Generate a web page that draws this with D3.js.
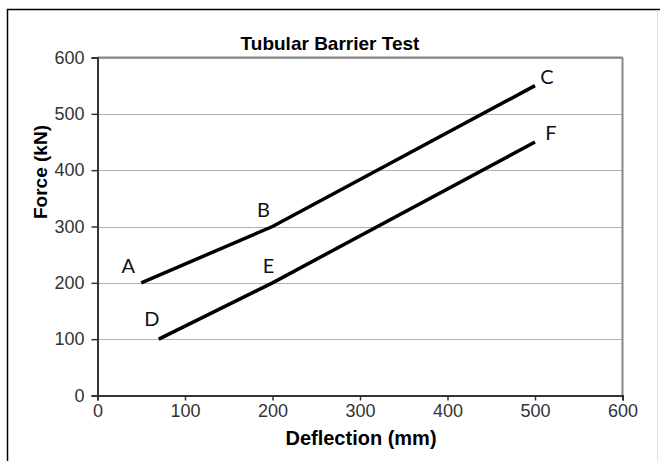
<!DOCTYPE html>
<html>
<head>
<meta charset="utf-8">
<script src="https://cdn.jsdelivr.net/npm/d3@7"></script>
<style>
  body { margin: 0; background: #fff; }
</style>
</head>
<body>
<script>
// values
var upperX = [50, 200, 500];
var upperY = [200, 300, 550];
var upperLabels = ["A", "B", "C"];
var lowerX = [70, 200, 500];
var lowerY = [100, 200, 450];
var lowerLabels = ["D", "E", "F"];
var xTicks = [0, 100, 200, 300, 400, 500, 600];
var yTicks = [0, 100, 200, 300, 400, 500, 600];

var W = 660, H = 461;
var plotLeft = 97.5, plotRight = 622.5, plotTop = 57.5, plotBottom = 395.5;

var svg = d3.select("body").append("svg").attr("width", W).attr("height", H);

// outer frame, only top and left edges show inside the picture
svg.append("rect").attr("x", 7.5).attr("y", 9.5).attr("width", 800).attr("height", 600)
    .attr("fill", "none").attr("stroke", "#000").attr("stroke-width", 1.5);
svg.append("line").attr("x1", 657.5).attr("x2", 657.5).attr("y1", 10).attr("y2", 461)
    .attr("stroke", "#ddd");

var x = d3.scaleLinear().domain([0, 600]).range([plotLeft, plotRight]);
var y = d3.scaleLinear().domain([0, 600]).range([plotBottom, plotTop]);

// grid lines
svg.append("g").selectAll("line").data(yTicks.slice(1)).enter().append("line")
    .attr("x1", plotLeft).attr("x2", plotRight)
    .attr("y1", function (d) { return Math.round(y(d)) + 0.5; })
    .attr("y2", function (d) { return Math.round(y(d)) + 0.5; })
    .attr("stroke", "#b0b0b0").attr("stroke-width", 1);

// top and right border of plot area
svg.append("line").attr("x1", plotRight).attr("x2", plotRight).attr("y1", plotTop).attr("y2", plotBottom)
    .attr("stroke", "#888").attr("stroke-width", 2);
svg.append("line").attr("x1", plotLeft).attr("x2", plotRight).attr("y1", plotTop).attr("y2", plotTop)
    .attr("stroke", "#888").attr("stroke-width", 2);

var xAxis = svg.append("g").attr("transform", "translate(0," + plotBottom + ")")
    .call(d3.axisBottom(x).tickValues(xTicks).tickSize(5).tickFormat(d3.format("d")));
var yAxis = svg.append("g").attr("transform", "translate(" + plotLeft + ",0)")
    .call(d3.axisLeft(y).tickValues(yTicks).tickSize(6).tickFormat(d3.format("d")));

[xAxis, yAxis].forEach(function (a) {
    a.select(".domain").attr("stroke", "#333").attr("stroke-width", 2);
    a.selectAll(".tick line").attr("stroke", "#333").attr("stroke-width", 1.5);
    a.selectAll(".tick text").attr("fill", "#333")
        .style("font-family", "'Liberation Sans', Arial, sans-serif").style("font-size", "18px");
});
xAxis.selectAll(".tick text").attr("dy", "0.71em").attr("y", 9);
yAxis.selectAll(".tick text").attr("x", -13);

var line = d3.line()
    .x(function (d) { return x(d[0]); })
    .y(function (d) { return y(d[1]); });

var series = [
    { xs: upperX, ys: upperY, labels: upperLabels },
    { xs: lowerX, ys: lowerY, labels: lowerLabels }
];
// label nudges (dx, dy) from each point, A..F
var labelOffsets = [[-13, -10], [-9, -10], [12, -2], [-7, -13], [-4, -10], [16, -2]];

series.forEach(function (s, si) {
    var pts = s.xs.map(function (v, i) { return [v, s.ys[i]]; });
    svg.append("path").datum(pts).attr("d", line)
        .attr("fill", "none").attr("stroke", "#000").attr("stroke-width", 3.5)
        .attr("stroke-linecap", "butt");
    svg.append("g").selectAll("text").data(pts).enter().append("text")
        .attr("x", function (d, i) { return x(d[0]) + labelOffsets[si * 3 + i][0]; })
        .attr("y", function (d, i) { return y(d[1]) + labelOffsets[si * 3 + i][1]; })
        .attr("text-anchor", "middle")
        .style("font-family", "Lato, 'Open Sans', sans-serif").style("font-size", "20px")
        .attr("fill", "#111")
        .text(function (d, i) { return s.labels[i]; });
});

var bold = "'Liberation Sans', Arial, sans-serif";
svg.append("text").attr("x", 330).attr("y", 50).attr("text-anchor", "middle")
    .style("font-family", bold).style("font-weight", "bold").style("font-size", "19px")
    .text("Tubular Barrier Test");
svg.append("text").attr("x", 361).attr("y", 445).attr("text-anchor", "middle")
    .style("font-family", bold).style("font-weight", "bold").style("font-size", "20px")
    .text("Deflection (mm)");
svg.append("text").attr("transform", "translate(47,172) rotate(-90)").attr("text-anchor", "middle")
    .style("font-family", bold).style("font-weight", "bold").style("font-size", "19px")
    .text("Force (kN)");
</script>
</body>
</html>
